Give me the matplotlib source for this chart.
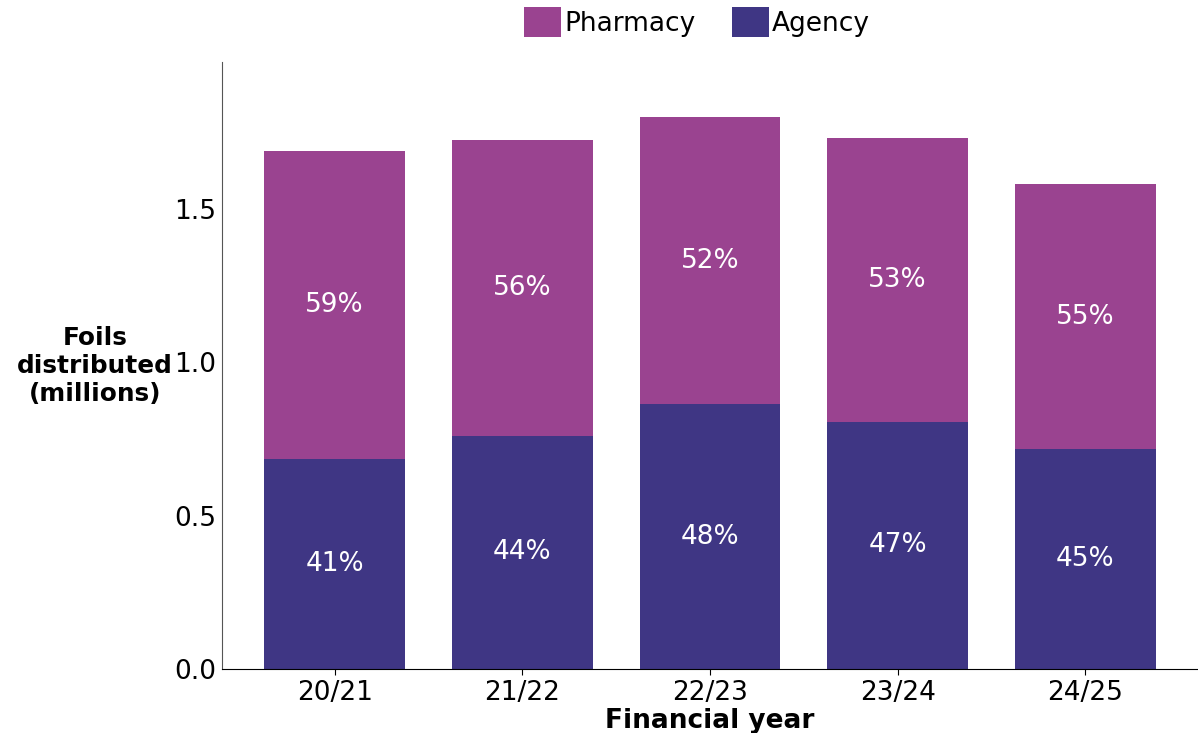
import matplotlib
matplotlib.use('Agg')
import matplotlib.pyplot as plt
import numpy as np

# data (millions of foils)
years = ['20/21', '21/22', '22/23', '23/24', '24/25']
agency = [0.686, 0.761, 0.863, 0.807, 0.716]
pharmacy = [1.004, 0.964, 0.938, 0.925, 0.866]

c_pharm = '#9A4390'
c_agency = '#3F3684'
fs = 19

fig = plt.figure(figsize=(11.98, 7.33), dpi=100)
ax = fig.add_axes([222/1198, 64/733, 1 - 222/1198, (669-62)/733])

x = np.arange(len(years))
b1 = ax.bar(x, agency, width=0.75, color=c_agency, label='Agency')
b2 = ax.bar(x, pharmacy, width=0.75, bottom=agency, color=c_pharm, label='Pharmacy')

# percentage labels in the middle of each segment
for i in range(len(years)):
    tot = agency[i] + pharmacy[i]
    pa = round(agency[i] / tot * 100)
    ax.text(x[i], agency[i] / 2, f'{pa}%', ha='center', va='center',
            color='white', fontsize=fs)
    ax.text(x[i], agency[i] + pharmacy[i] / 2, f'{100 - pa}%', ha='center',
            va='center', color='white', fontsize=fs)

ax.set_xlim(-0.6, 4.6)
ax.set_ylim(0, 1.98)
ax.set_yticks([0, 0.5, 1.0, 1.5])
ax.set_yticklabels(['0.0', '0.5', '1.0', '1.5'])
ax.set_xticks(x)
ax.set_xticklabels(years)
ax.tick_params(axis='y', length=0, labelsize=fs, pad=4)
ax.tick_params(axis='x', length=4, labelsize=fs, pad=4)
ax.spines['top'].set_visible(False)
ax.spines['right'].set_visible(False)
ax.spines['left'].set_color('#555555')

ax.set_xlabel('Financial year', fontsize=fs, fontweight='bold', labelpad=1)
fig.text(95/1198, 1 - 366/733, 'Foils\ndistributed\n(millions)', fontsize=17.8,
         fontweight='bold', ha='center', va='center', linespacing=1.2)

fig.legend(handles=[b2, b1], labels=['Pharmacy', 'Agency'], loc='center',
           bbox_to_anchor=(697/1198, 1 - 22/733), ncol=2, frameon=False,
           fontsize=fs, handlelength=1.4, handleheight=1.4, handletextpad=0.1,
           columnspacing=1.4, borderaxespad=0)

fig.savefig('out.png', dpi=100)
